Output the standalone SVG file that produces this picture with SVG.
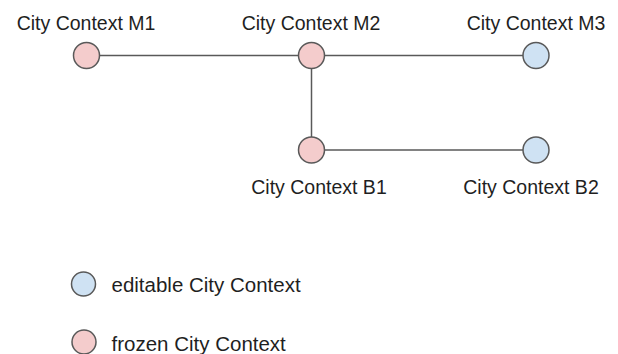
<svg xmlns="http://www.w3.org/2000/svg" width="618" height="354" viewBox="0 0 618 354">
<style>
.bg{fill:#ffffff}
.lbl{font-family:"Liberation Sans",Arial,sans-serif;font-size:19.5px;fill:#1f1f1f}
.leg{font-family:"Liberation Sans",Arial,sans-serif;font-size:20.5px;fill:#1f1f1f}
.frozen{fill:#f4cccc;stroke:#595959;stroke-width:1.5}
.editable{fill:#cfe2f3;stroke:#595959;stroke-width:1.5}
.edge{stroke:#595959;stroke-width:1.5;fill:none}
</style>
<rect class="bg" x="0" y="0" width="618" height="354"/>
<g id="connectors">
<line class="edge" x1="99.5" y1="55.5" x2="298.5" y2="55.5"/>
<line class="edge" x1="324.5" y1="55.5" x2="523" y2="55.5"/>
<line class="edge" x1="311.5" y1="68.5" x2="311.5" y2="137"/>
<line class="edge" x1="324" y1="150" x2="523" y2="150"/>
</g>
<g id="node-m1">
<circle class="frozen" cx="86.5" cy="55.5" r="13"/>
<text class="lbl" x="86" y="30" text-anchor="middle">City Context M1</text>
</g>
<g id="node-m2">
<circle class="frozen" cx="311.5" cy="55.5" r="13"/>
<text class="lbl" x="311" y="30" text-anchor="middle">City Context M2</text>
</g>
<g id="node-m3">
<circle class="editable" cx="536" cy="55.5" r="13"/>
<text class="lbl" x="536" y="30" text-anchor="middle">City Context M3</text>
</g>
<g id="node-b1">
<circle class="frozen" cx="311.5" cy="150" r="13"/>
<text class="lbl" x="319" y="194" text-anchor="middle">City Context B1</text>
</g>
<g id="node-b2">
<circle class="editable" cx="536" cy="150" r="13"/>
<text class="lbl" x="531" y="193.5" text-anchor="middle">City Context B2</text>
</g>
<g id="legend-editable">
<circle class="editable" cx="83.5" cy="284" r="12"/>
<text class="leg" x="111.5" y="292">editable City Context</text>
</g>
<g id="legend-frozen">
<circle class="frozen" cx="84" cy="342" r="12"/>
<text class="leg" x="111.5" y="351">frozen City Context</text>
</g>
</svg>
